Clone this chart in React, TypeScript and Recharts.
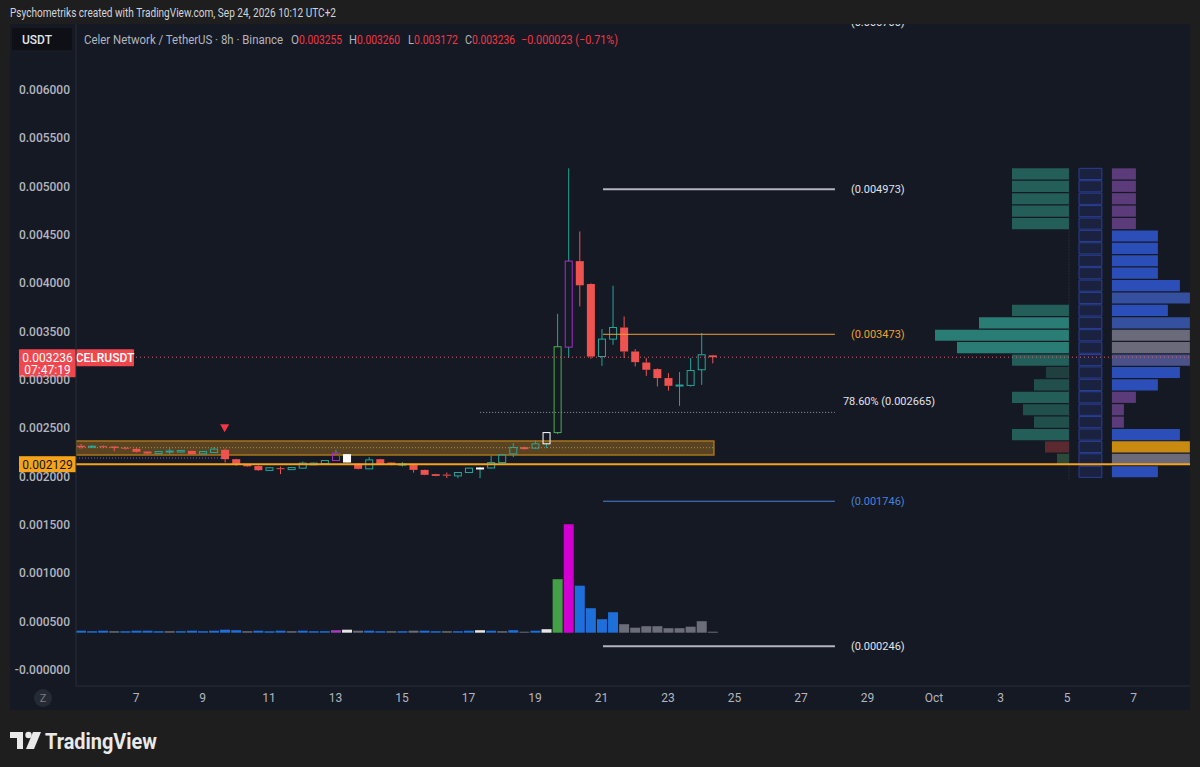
import React from 'react';
import {
  ComposedChart,
  Bar,
  Cell,
  XAxis,
  YAxis,
  ReferenceLine,
  ReferenceArea,
  ReferenceDot,
} from 'recharts';

// ---------------- data ----------------
// time axis: days from Sep 7 00:00; 8h candles start Sep 5 08:00
const firstCandleDay = -5 / 3;
const candleStepDays = 1 / 3;

const opens = [
  0.00232, 0.002305, 0.002315, 0.002312, 0.0023, 0.002288, 0.00226, 0.002239, 0.002258, 0.002255,
  0.002267, 0.002236, 0.00225, 0.002278, 0.002181, 0.002125, 0.00211, 0.002065, 0.002088, 0.002073,
  0.002088, 0.002123, 0.002133, 0.002167, 0.002233, 0.002133, 0.002081, 0.002181, 0.002146, 0.002122,
  0.00212, 0.00207, 0.002026, 0.002021, 0.002008, 0.002043, 0.002085, 0.00209, 0.002146, 0.002236,
  0.002305, 0.002295, 0.00234, 0.002456, 0.00334, 0.00423, 0.003993, 0.003243, 0.003423, 0.003543,
  0.003295, 0.003181, 0.003113, 0.00302, 0.002942, 0.002944, 0.003106, 0.003255,
];
const highs = [
  0.002338, 0.002325, 0.002325, 0.002318, 0.00231, 0.002295, 0.002262, 0.002265, 0.002295, 0.002275,
  0.00227, 0.002262, 0.002305, 0.00229, 0.002185, 0.00213, 0.002115, 0.002097, 0.002105, 0.002098,
  0.002156, 0.002145, 0.00217, 0.002277, 0.002236, 0.002138, 0.002202, 0.002185, 0.00215, 0.00215,
  0.002125, 0.002073, 0.00203, 0.002043, 0.002045, 0.002092, 0.0021, 0.002218, 0.00223, 0.002347,
  0.00231, 0.002374, 0.00246, 0.003685, 0.00519, 0.004537, 0.004, 0.003527, 0.003975, 0.003657,
  0.00332, 0.003227, 0.00312, 0.003071, 0.003082, 0.003227, 0.003486, 0.00326,
];
const lows = [
  0.00229, 0.002298, 0.002295, 0.002262, 0.00228, 0.00225, 0.002232, 0.002235, 0.00223, 0.00225,
  0.00223, 0.002233, 0.002245, 0.002146, 0.002112, 0.0021, 0.00206, 0.00206, 0.002026, 0.00207,
  0.002085, 0.00212, 0.00213, 0.002165, 0.00214, 0.002075, 0.002078, 0.00213, 0.002118, 0.002105,
  0.002042, 0.002015, 0.002005, 0.001985, 0.001985, 0.00204, 0.001985, 0.002085, 0.00214, 0.002202,
  0.00228, 0.00229, 0.002295, 0.00244, 0.00323, 0.003761, 0.00322, 0.003147, 0.003364, 0.003227,
  0.00314, 0.003043, 0.002933, 0.002891, 0.002733, 0.002933, 0.00295, 0.003172,
];
const closes = [
  0.002305, 0.002315, 0.002305, 0.002298, 0.00229, 0.002257, 0.002239, 0.00226, 0.002265, 0.00227,
  0.002233, 0.00226, 0.002285, 0.002181, 0.002133, 0.002107, 0.002067, 0.002092, 0.002082, 0.002094,
  0.00214, 0.00214, 0.002167, 0.002243, 0.002146, 0.002081, 0.002174, 0.002133, 0.002122, 0.00213,
  0.00207, 0.002019, 0.002008, 0.002016, 0.002043, 0.002088, 0.00209, 0.002146, 0.002226, 0.002302,
  0.002285, 0.00234, 0.002456, 0.003344, 0.00423, 0.00398, 0.003243, 0.003423, 0.003543, 0.003295,
  0.003185, 0.003106, 0.00302, 0.00294, 0.002948, 0.003098, 0.003261, 0.003236,
];
// indicator bar colouring: '' default, p purple, w white, g green
const barColorTags = [
  '', '', '', '', '', '', '', '', '', '',
  '', '', '', '', '', '', '', '', '', '',
  '', '', '', 'p', 'w', '', '', '', '', '',
  '', '', '', '', '', '', 'w', '', '', '',
  '', '', 'w', 'g', 'p', '', '', '', '', '',
  '', '', '', '', '', '', '', '',
];
// volume (arbitrary units)
const volumes = [
  4, 3, 4, 3, 3, 4, 4, 3, 3, 3,
  4, 3, 4, 6, 5, 3, 4, 3, 4, 3,
  4, 3, 3, 5, 6, 4, 4, 3, 3, 3,
  4, 4, 3, 3, 3, 4, 5, 4, 3, 5,
  2, 4, 7, 107, 217, 94, 49, 27, 41, 17,
  10, 13, 13, 9, 9, 12, 23, 2,
];
const volumeTags = [
  'b', 'b', 'b', 'g', 'b', 'b', 'b', 'b', 'g', 'b',
  'b', 'b', 'b', 'b', 'b', 'g', 'b', 'b', 'b', 'g',
  'b', 'b', 'b', 'p', 'w', 'g', 'b', 'b', 'g', 'b',
  'g', 'b', 'b', 'g', 'b', 'b', 'w', 'b', 'g', 'b',
  'g', 'b', 'w', 'G', 'm', 'b', 'b', 'b', 'b', 'g',
  'g', 'g', 'g', 'g', 'g', 'g', 'g', 'g',
];

const dayTicks = [0, 2, 4, 6, 8, 10, 12, 14, 16, 18, 20, 22, 24, 26, 28, 30];
const dayTickLabels = ['7', '9', '11', '13', '15', '17', '19', '21', '23', '25', '27', '29', 'Oct', '3', '5', '7'];
const priceTicks = [0, 0.0005, 0.001, 0.0015, 0.002, 0.0025, 0.003, 0.0035, 0.004, 0.0045, 0.005, 0.0055, 0.006];

// drawings
const fibLevels = [0.0067, 0.004973, 0.003473, 0.001746, 0.000246];
const fibLabels = ['(0.006700)', '(0.004973)', '(0.003473)', '(0.001746)', '(0.000246)'];
const fibStartDay = 14.045;
const fibEndDay = 21.02;
const retraceLevel = 0.002665;
const retraceLabel = '78.60% (0.002665)';
const retraceStartDay = 10.35;
const currentPrice = 0.003236;
const supportPrice = 0.002129;
const zoneLow = 0.002224;
const zoneHigh = 0.002369;
const zoneMid = 0.0023;
const zoneEndDay = 17.38;
const lowerDotted = 0.002193;
const lowerDottedEndDay = 2.62;
const signalIndex = 13;
const signalPrice = 0.0025;

// volume profile (25 price rows, top to bottom)
const vpHigh = 0.00519;
const vpLow = 0.00198;
const vpLeftVolumes = [57, 57, 57, 57, 57, 0, 0, 0, 0, 0, 0, 57, 90, 134, 112, 57, 23, 35, 57, 46, 35, 57, 24, 12, 0];
const vpLeftTags = ['n', 'n', 'n', 'n', 'n', '', '', '', '', '', '', 'n', 's', 's', 's', 'n', 'd', 'm', 'n', 'm', 'm', 'n', 'r', 'o', ''];
const vpRightVolumes = [24, 24, 24, 24, 24, 46, 46, 46, 46, 68, 78, 56, 78, 78, 78, 78, 68, 46, 24, 12, 12, 68, 78, 78, 46];
const vpRightTags = ['p', 'p', 'p', 'p', 'p', 'b', 'b', 'b', 'b', 'b', 'l', 'b', 'l', 'g', 'g', 's', 'b', 'b', 'p', 'p', 'p', 'b', 'o', 'g', 'b'];

// ---------------- styles ----------------
const PAGE_BG = '#1e1e1e';
const PANEL = '#151924';
const AXIS_LINE = '#2a2e39';
const AXIS_TEXT = '#b2b5be';
const UP = '#26a69a';
const DOWN = '#ef5350';
const candleTagColor: Record<string, string> = { p: '#a52fc4', w: '#ffffff', g: '#4caf50' };
const volumeColor: Record<string, string> = {
  b: '#1e6fd9', g: '#6b6e78', w: '#e6e6e6', p: '#a040b8', G: '#43a047', m: '#d100d1',
};
const vpLeftColor: Record<string, string> = {
  n: '#235e58', s: '#2a7d74', m: '#21504c', d: '#1f403f', r: '#5b2a31', o: '#2c4a3a',
};
const vpRightColor: Record<string, string> = {
  p: '#5c3b7a', b: '#2c4eb8', l: '#34509e', g: '#6a6a7b', s: '#4b5287', o: '#c88a10',
};
const FONT = 'Roboto, "Noto Sans", "DejaVu Sans", sans-serif';

// layout (chart geometry)
const X_MIN = -1.8045;
const X_MAX = 31.699;
const Y_MIN = -0.0001655;
const Y_MAX = 0.006683;
const DAY_PX = 33.25;
const VOL_MIN = -106.6;
const VOL_MAX = 1217.4;
const VP_LEFT_RIGHT_EDGE = 28.06;
const VP_MID_LEFT = 28.36;
const VP_MID_RIGHT = 29.05;
const VP_RIGHT_LEFT = 29.35;

const candles = opens.map((o, i) => ({
  t: firstCandleDay + i * candleStepDays,
  open: o,
  high: highs[i],
  low: lows[i],
  close: closes[i],
  range: [lows[i], highs[i]],
  tag: barColorTags[i],
  vol: volumes[i],
  vtag: volumeTags[i],
}));

const CandleShape = (props: any) => {
  const { x, y, width, height, payload } = props;
  if (x == null || y == null) return null;
  const top0 = Math.min(y, y + height);
  const h = Math.abs(height);
  const { open, close, high, low, tag } = payload;
  const up = close >= open;
  const base = up ? UP : DOWN;
  const body = tag ? candleTagColor[tag] : base;
  const span = high - low || 1e-9;
  const yOf = (v: number) => top0 + ((high - v) / span) * h;
  const bTop = yOf(Math.max(open, close));
  let bBot = yOf(Math.min(open, close));
  if (bBot - bTop < 1) bBot = bTop + 1;
  const cx = x + width / 2;
  return (
    <g>
      <line x1={cx} x2={cx} y1={top0} y2={bTop} stroke={base} strokeWidth={1} />
      <line x1={cx} x2={cx} y1={bBot} y2={top0 + h} stroke={base} strokeWidth={1} />
      {up ? (
        <rect x={x + 0.5} y={bTop} width={width - 1} height={bBot - bTop} fill="none" stroke={body} strokeWidth={1} />
      ) : (
        <rect x={x} y={bTop} width={width} height={bBot - bTop} fill={body} />
      )}
    </g>
  );
};

const fibColors = ['#d1d4dc', '#b2b5be', '#f0a030', '#4a82d8', '#b2b5be'];
const fibLabelColors = ['#e0e3eb', '#e0e3eb', '#f0a030', '#4a82d8', '#e0e3eb'];
const fibWidths = [2, 2, 1, 1, 2];

const SideLabel = (text: string, color: string) => (p: any) => {
  const vb = p.viewBox || {};
  return (
    <text x={vb.x + vb.width + 16} y={vb.y} dominantBaseline="central" fill={color} fontSize={11} fontFamily={FONT}>
      {text}
    </text>
  );
};

const CurrentPriceTag = (p: any) => {
  const vb = p.viewBox || {};
  const x0 = vb.x - 57;
  const y0 = vb.y;
  return (
    <g fontFamily={FONT}>
      <rect x={x0} y={y0 - 8} width={57} height={28} fill="#f0474f" rx={1} />
      <text x={x0 + 28.5} y={y0 + 0.5} textAnchor="middle" dominantBaseline="central" fill="#fff" fontSize={12}>
        0.003236
      </text>
      <text x={x0 + 28.5} y={y0 + 12.5} textAnchor="middle" dominantBaseline="central" fill="#fff" fontSize={12}>
        07:47:19
      </text>
      <rect x={vb.x} y={y0 - 8} width={58} height={17} fill="#f0474f" rx={1} />
      <text x={vb.x + 29} y={y0 + 0.5} textAnchor="middle" dominantBaseline="central" fill="#fff" fontSize={12} fontWeight={500}>
        CELRUSDT
      </text>
    </g>
  );
};

const SupportTag = (p: any) => {
  const vb = p.viewBox || {};
  const x0 = vb.x - 57;
  return (
    <g fontFamily={FONT}>
      <rect x={x0} y={vb.y - 8} width={57} height={16} fill="#f7a21b" />
      <text x={x0 + 28.5} y={vb.y + 0.5} textAnchor="middle" dominantBaseline="central" fill="#131722" fontSize={12}>
        0.002129
      </text>
    </g>
  );
};

const PriceTick = (p: any) => {
  const v = p.payload.value;
  const label = v === 0 ? '-0.000000' : v.toFixed(6);
  return (
    <text x={60} y={p.y} textAnchor="end" dominantBaseline="central" fill={AXIS_TEXT} fontSize={12} fontWeight={500} fontFamily={FONT}>
      {label}
    </text>
  );
};

const DayTick = (p: any) => {
  const idx = dayTicks.indexOf(p.payload.value);
  return (
    <text x={p.x} y={674} textAnchor="middle" dominantBaseline="central" fill={AXIS_TEXT} fontSize={12} fontFamily={FONT}>
      {dayTickLabels[idx]}
    </text>
  );
};

const SignalTriangle = (p: any) => (
  <polygon points={`${p.cx - 4.5},${p.cy - 4} ${p.cx + 4.5},${p.cy - 4} ${p.cx},${p.cy + 4}`} fill="#f23645" />
);

export default function App() {
  const vpStep = (vpHigh - vpLow) / vpLeftVolumes.length;
  const rowTop = (r: number) => vpHigh - r * vpStep;
  const rowBot = (r: number) => vpHigh - (r + 1) * vpStep + vpStep * 0.1;

  const legendParts: [string, number, number, string][] = [
    ['Celer Network / TetherUS · 8h · Binance', 84, 199, '#b2b5be'],
    ['O', 291, 8, '#b2b5be'],
    ['0.003255', 299, 43, '#f23645'],
    ['H', 349, 8, '#b2b5be'],
    ['0.003260', 357, 43, '#f23645'],
    ['L', 408, 6, '#b2b5be'],
    ['0.003172', 414, 44, '#f23645'],
    ['C', 465, 7, '#b2b5be'],
    ['0.003236', 472, 43, '#f23645'],
    ['−0.000023 (−0.71%)', 521, 97, '#f23645'],
  ];

  return (
    <div
      style={{
        position: 'absolute',
        left: 0,
        top: 0,
        width: 1200,
        height: 767,
        background: PAGE_BG,
        fontFamily: FONT,
        overflow: 'hidden',
      }}
    >
      <svg width={1200} height={24} style={{ position: 'absolute', left: 0, top: 0 }}>
        <text x={10} y={17} fill="#d1d4dc" fontSize={12.5} textLength={326} lengthAdjust="spacingAndGlyphs" fontFamily={FONT}>
          Psychometriks created with TradingView.com, Sep 24, 2026 10:12 UTC+2
        </text>
      </svg>

      <div style={{ position: 'absolute', left: 10, top: 24, width: 1180, height: 686, background: PANEL }}>
        <ComposedChart width={1180} height={686} data={candles} margin={{ top: 0, right: 0, bottom: 0, left: 0 }}>
          <XAxis
            xAxisId="t"
            dataKey="t"
            type="number"
            domain={[X_MIN, X_MAX]}
            ticks={dayTicks}
            allowDataOverflow
            height={24}
            tickLine={false}
            axisLine={{ stroke: AXIS_LINE }}
            tick={DayTick}
            interval={0}
          />
          <XAxis xAxisId="v" dataKey="t" type="number" domain={[X_MIN, X_MAX]} allowDataOverflow hide />
          <YAxis
            yAxisId="p"
            type="number"
            domain={[Y_MIN, Y_MAX]}
            ticks={priceTicks}
            allowDataOverflow
            width={66}
            tickLine={false}
            axisLine={{ stroke: AXIS_LINE }}
            tick={PriceTick}
            interval={0}
          />
          <YAxis yAxisId="v" type="number" domain={[VOL_MIN, VOL_MAX]} allowDataOverflow hide />

          {/* supply / demand zone */}
          <ReferenceArea
            xAxisId="t"
            yAxisId="p"
            x1={X_MIN}
            x2={zoneEndDay}
            y1={zoneLow}
            y2={zoneHigh}
            fill="#c98a1c"
            fillOpacity={0.38}
            stroke="#a8741a"
            strokeWidth={1.5}
            ifOverflow="hidden"
          />
          <ReferenceLine
            xAxisId="t"
            yAxisId="p"
            segment={[{ x: X_MIN, y: zoneMid }, { x: zoneEndDay, y: zoneMid }]}
            stroke="#9a8a70"
            strokeDasharray="1 2"
            strokeWidth={1}
            ifOverflow="hidden"
          />
          <ReferenceLine
            xAxisId="t"
            yAxisId="p"
            segment={[{ x: X_MIN, y: lowerDotted }, { x: lowerDottedEndDay, y: lowerDotted }]}
            stroke="#8a5aa8"
            strokeDasharray="1 2"
            strokeWidth={1}
            ifOverflow="hidden"
          />

          {/* volume profile */}
          {vpLeftVolumes.map((w, r) =>
            w > 0 ? (
              <ReferenceArea
                key={'vl' + r}
                xAxisId="t"
                yAxisId="p"
                x1={VP_LEFT_RIGHT_EDGE - w / DAY_PX}
                x2={VP_LEFT_RIGHT_EDGE}
                y1={rowBot(r)}
                y2={rowTop(r)}
                fill={vpLeftColor[vpLeftTags[r]]}
                fillOpacity={1}
                stroke="none"
                ifOverflow="hidden"
              />
            ) : null
          )}
          {vpLeftVolumes.map((_, r) => (
            <ReferenceArea
              key={'vm' + r}
              xAxisId="t"
              yAxisId="p"
              x1={VP_MID_LEFT}
              x2={VP_MID_RIGHT}
              y1={rowBot(r)}
              y2={rowTop(r)}
              fill="#1a2240"
              fillOpacity={1}
              stroke="#2b3f96"
              strokeWidth={1}
              ifOverflow="hidden"
            />
          ))}
          {vpRightVolumes.map((w, r) => (
            <ReferenceArea
              key={'vr' + r}
              xAxisId="t"
              yAxisId="p"
              x1={VP_RIGHT_LEFT}
              x2={Math.min(VP_RIGHT_LEFT + w / DAY_PX, X_MAX)}
              y1={rowBot(r)}
              y2={rowTop(r)}
              fill={vpRightColor[vpRightTags[r]]}
              fillOpacity={1}
              stroke="none"
              ifOverflow="hidden"
            />
          ))}
          <ReferenceLine
            xAxisId="t"
            yAxisId="p"
            segment={[{ x: VP_LEFT_RIGHT_EDGE, y: vpLow }, { x: VP_LEFT_RIGHT_EDGE, y: vpHigh }]}
            stroke="#3b3f4c"
            strokeDasharray="1 2"
          />

          {/* support line & current price */}
          <ReferenceLine xAxisId="t" yAxisId="p" y={supportPrice} stroke="#f7a21b" strokeWidth={2} label={SupportTag} />
          <ReferenceLine
            xAxisId="t"
            yAxisId="p"
            y={currentPrice}
            stroke="#e0606e"
            strokeDasharray="1 3"
            strokeWidth={1}
            label={CurrentPriceTag}
          />

          {/* fib drawing */}
          {fibLevels.map((lv, k) => (
            <ReferenceLine
              key={'fib' + k}
              xAxisId="t"
              yAxisId="p"
              segment={[{ x: fibStartDay, y: lv }, { x: fibEndDay, y: lv }]}
              stroke={fibColors[k]}
              strokeWidth={fibWidths[k]}
              ifOverflow="visible"
              label={SideLabel(fibLabels[k], fibLabelColors[k])}
            />
          ))}
          <ReferenceLine
            xAxisId="t"
            yAxisId="p"
            segment={[{ x: retraceStartDay, y: retraceLevel }, { x: fibEndDay, y: retraceLevel }]}
            stroke="#9598a1"
            strokeDasharray="1 2"
            strokeWidth={1}
            label={(p: any) => {
              const vb = p.viewBox || {};
              return (
                <text x={vb.x + vb.width + 8} y={vb.y - 11} dominantBaseline="central" fill="#e0e3eb" fontSize={11} fontFamily={FONT}>
                  {retraceLabel}
                </text>
              );
            }}
          />

          {/* volume */}
          <Bar xAxisId="v" yAxisId="v" dataKey="vol" barSize={10} isAnimationActive={false}>
            {candles.map((c, i) => (
              <Cell key={i} fill={volumeColor[c.vtag]} />
            ))}
          </Bar>

          {/* candles */}
          <Bar xAxisId="t" yAxisId="p" dataKey="range" barSize={8} shape={CandleShape} isAnimationActive={false} />

          <ReferenceDot
            xAxisId="t"
            yAxisId="p"
            x={firstCandleDay + signalIndex * candleStepDays}
            y={signalPrice}
            shape={SignalTriangle}
          />
        </ComposedChart>

        {/* legend overlay */}
        <svg width={700} height={28} style={{ position: 'absolute', left: 0, top: 0 }}>
          <rect x={2} y={4} width={60} height={22} fill="#0e1016" rx={2} />
          <text x={12} y={15.5} dominantBaseline="central" fill="#e0e3eb" fontSize={12} fontWeight={500} fontFamily={FONT}>
            USDT
          </text>
          {legendParts.map(([t, x, w, c], k) => (
            <text
              key={k}
              x={x - 10}
              y={15.5}
              dominantBaseline="central"
              fill={c}
              fontSize={12}
              textLength={w}
              lengthAdjust="spacingAndGlyphs"
              fontFamily={FONT}
            >
              {t}
            </text>
          ))}
        </svg>
        <svg width={66} height={24} style={{ position: 'absolute', left: 0, top: 662 }}>
          <circle cx={33} cy={12} r={9} fill="#262a33" />
          <text x={33} y={12.5} textAnchor="middle" dominantBaseline="central" fill="#787b86" fontSize={11} fontFamily={FONT}>
            Z
          </text>
        </svg>
      </div>

      {/* footer logo */}
      <svg width={200} height={40} style={{ position: 'absolute', left: 0, top: 720 }}>
        <rect x={10} y={12} width={13} height={6} fill="#e9e9ea" />
        <rect x={17} y={12} width={6} height={17} fill="#e9e9ea" />
        <circle cx={28.5} cy={15} r={3.2} fill="#e9e9ea" />
        <polygon points="33,12 41,12 34,29 26,29" fill="#e9e9ea" />
        <text x={45} y={21} dominantBaseline="central" fill="#e9e9ea" fontSize={22} fontWeight={700} textLength={112} lengthAdjust="spacingAndGlyphs" fontFamily={FONT}>
          TradingView
        </text>
      </svg>
    </div>
  );
}
